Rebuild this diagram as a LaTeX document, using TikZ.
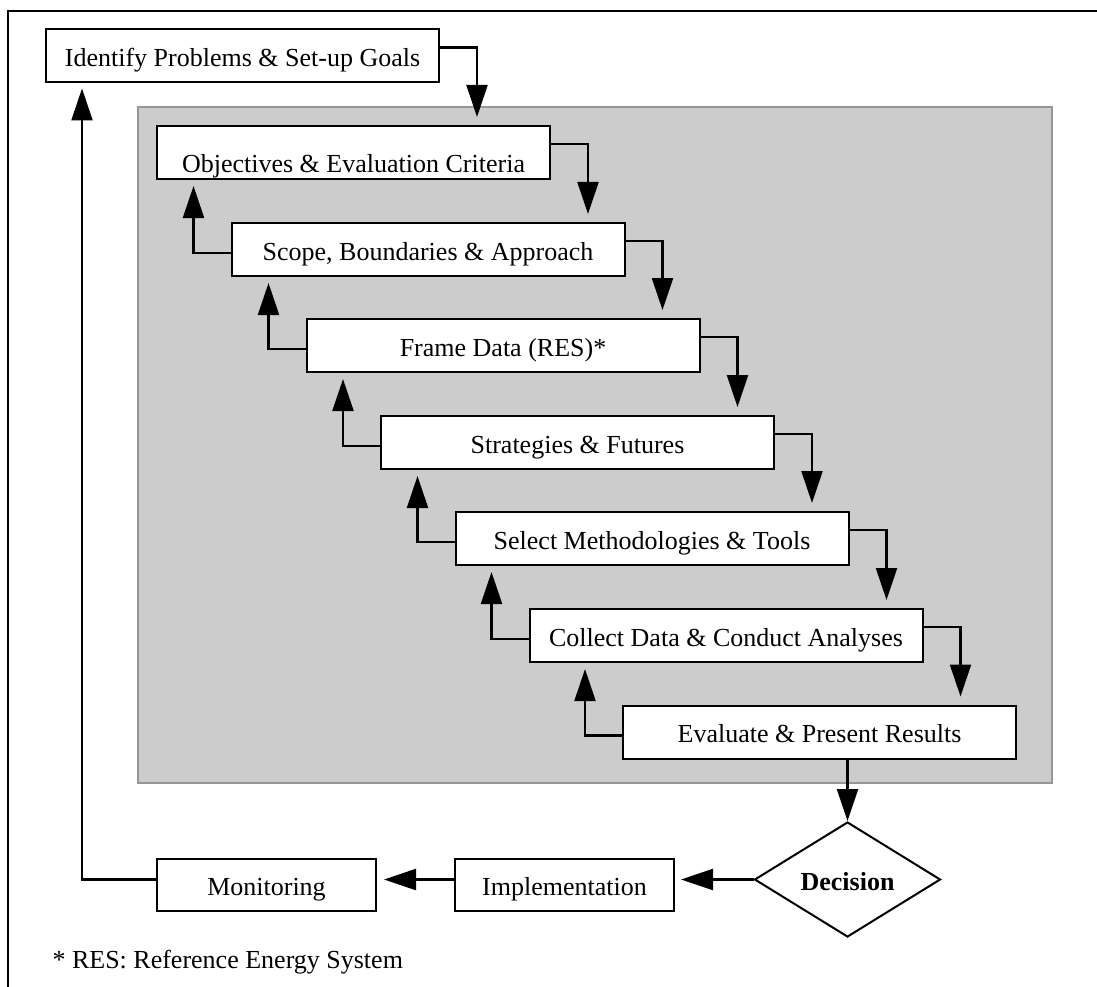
\documentclass[tikz,border=0pt]{standalone}
\usepackage{fontspec}
\setmainfont{Liberation Serif}
\usetikzlibrary{arrows.meta,calc,shapes.geometric}
\definecolor{panelfill}{RGB}{204,204,204}
\definecolor{paneledge}{RGB}{150,150,150}
\begin{document}
\begin{tikzpicture}[x=1pt,y=-1pt,
  txt/.style={font=\fontsize{26pt}{30pt}\selectfont},
  stepbox/.style={txt, draw, line width=2pt, fill=white,
    minimum width=393pt, minimum height=53pt, inner sep=0pt,
    text height=22pt, text depth=1pt},
  smallbox/.style={stepbox, minimum width=219pt, minimum height=52pt},
  decbox/.style={txt, font=\bfseries\fontsize{26pt}{30pt}\selectfont,
    draw, diamond, aspect=1.62, minimum width=186pt, minimum height=115pt,
    inner sep=0pt, line width=2pt, fill=white, text height=22pt, text depth=1pt},
  arr/.style={line width=2.2pt, -{Triangle[length=32pt,width=21pt]}},
]
\useasboundingbox (0,0) rectangle (1097,987);
\fill[white] (0,0) rectangle (1097,987);

% outer frame
\draw[line width=2.6pt] (1097,11) -- (8,11) -- (8,987);

% shaded panel holding the analysis steps
\draw[fill=panelfill, draw=paneledge, line width=2.2pt] (138,107) rectangle (1052,783);

% boxes
\node[stepbox] (id)    at (242.5,56)  {Identify Problems \& Set-up Goals};
\node[stepbox, text height=41pt] (obj) at (353.5,152.5) {Objectives \& Evaluation Criteria};
\node[stepbox] (scope) at (428,249.5) {Scope, Boundaries \& Approach};
\node[stepbox] (frame) at (503,345.5) {Frame Data (RES)*};
\node[stepbox] (strat) at (577.5,442.5) {Strategies \& Futures};
\node[stepbox] (sel)   at (652,538.5) {Select Methodologies \& Tools};
\node[stepbox] (coll)  at (726,635.5) {Collect Data \& Conduct Analyses};
\node[stepbox] (eval)  at (819.5,732) {Evaluate \& Present Results};

\node[decbox] (dec) at (847.5,879.5) {Decision};
\node[smallbox] (impl) at (564.5,885) {Implementation};
\node[smallbox] (mon)  at (266.5,885) {Monitoring};

\node[txt, anchor=base west] (note) at (49,968) {* RES: Reference Energy System};

% forward hooks: right side of a step down to the next step
\foreach \a/\b in {id/obj, obj/scope, scope/frame, frame/strat, strat/sel, sel/coll, coll/eval} {
  \path ($(\a.north east)+(37,0)$) coordinate (h);
  \draw[arr, shorten >=8pt] ($(\a.north east)+(0,19)$) -| (h |- \b.north);
}

% feedback hooks: left side of a step up to the previous step
\foreach \b/\a in {scope/obj, frame/scope, strat/frame, sel/strat, coll/sel, eval/coll} {
  \path ($(\b.north west)+(-37,0)$) coordinate (v);
  \draw[arr, shorten >=6pt] ($(\b.north west)+(0,31)$) -| (v |- \a.south);
}

% decision and follow-up loop
\draw[arr] (eval.south -| dec.north) -- (dec.north);
\draw[arr, shorten >=6pt] (dec.west) -- (dec.west -| impl.east);
\draw[arr, shorten >=7pt] (impl.west |- dec.west) -- (mon.east |- dec.west);
\path ($(id.south west)+(37,0)$) coordinate (fb);
\draw[arr, shorten >=5pt] (mon.west |- dec.west) -| (fb);
\end{tikzpicture}
\end{document}
